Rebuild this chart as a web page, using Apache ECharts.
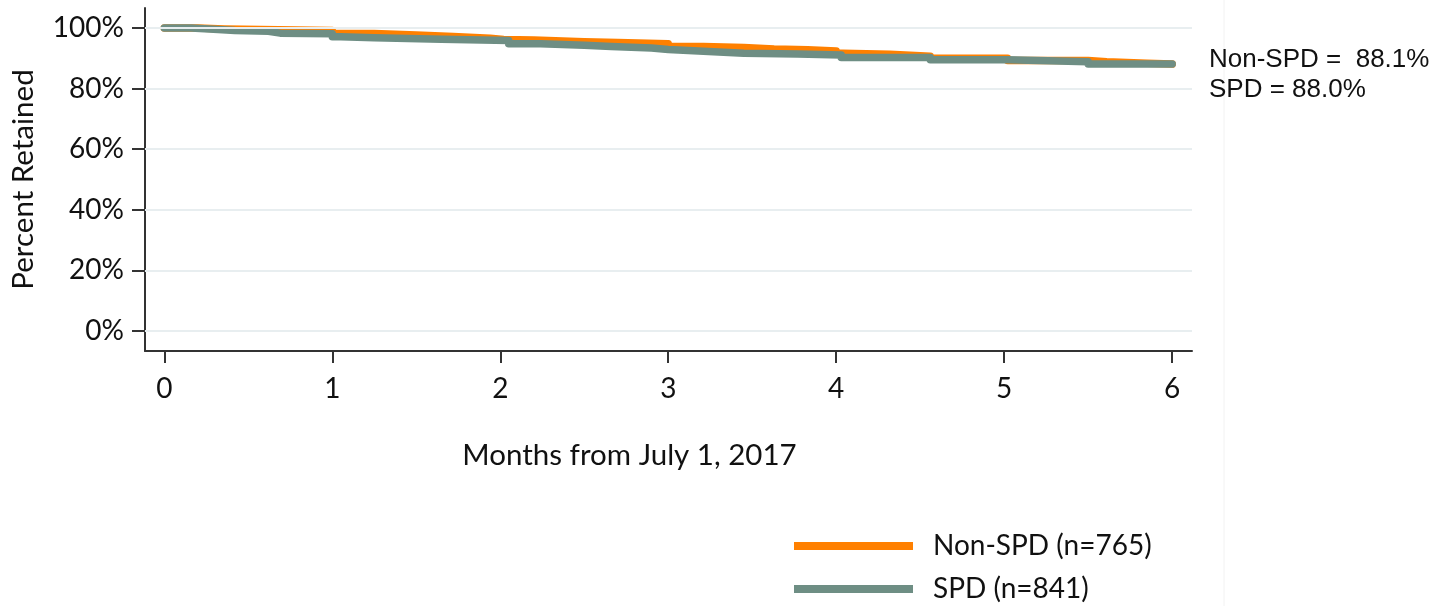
<!DOCTYPE html>
<html>
<head>
<meta charset="utf-8">
<script src="https://cdn.jsdelivr.net/npm/echarts@6/dist/echarts.min.js"></script>
<style>
  html, body { margin: 0; padding: 0; background: #fff; }
  #chart { width: 1449px; height: 606px; }
</style>
</head>
<body>
<div id="chart"></div>
<script>
// retention curves (months, percent retained)
var nonSpdMonths = [0, 0.2, 0.36, 1.0, 1.25, 1.5, 1.72, 1.94, 2.02, 2.2, 2.5, 2.7, 3.0, 3.21, 3.45, 3.63, 3.83, 4.0, 4.04, 4.32, 4.56, 5.02, 5.5, 5.61, 5.85, 6.0];
var nonSpdPct = [100, 99.7, 99.2, 98.2, 97.7, 97.2, 96.6, 96.2, 96.0, 95.5, 95.2, 94.8, 93.9, 93.6, 93.1, 92.8, 92.4, 91.7, 91.3, 90.7, 90.0, 89.3, 88.9, 88.4, 88.1, 88.1];
var spdMonths = [0, 0.16, 0.32, 0.42, 0.62, 0.69, 1.0, 1.05, 1.25, 1.65, 2.05, 2.24, 2.5, 2.66, 2.9, 3.0, 3.21, 3.45, 3.77, 4.03, 4.56, 5.02, 5.5, 6.0];
var spdPct = [100, 99.5, 99.2, 98.9, 98.3, 98.1, 97.1, 96.8, 96.3, 95.9, 94.8, 94.3, 93.9, 93.4, 92.9, 92.3, 91.7, 91.4, 91.1, 90.3, 89.5, 88.9, 88.1, 88.0];

var seriesNames = ['Non-SPD (n=765)', 'SPD (n=841)'];
var finalLabels = ['Non-SPD =  88.1%', 'SPD = 88.0%'];
var xTicks = [0, 1, 2, 3, 4, 5, 6];
var yTicks = [0, 20, 40, 60, 80, 100];

var font = 'Lato';
var axisColor = '#333';

function pairs(xs, ys) {
    var out = [];
    xs.forEach(function (x, i) { out.push([x, ys[i]]); });
    return out;
}

var chart = echarts.init(document.getElementById('chart'));
chart.setOption({
    animation: false,
    backgroundColor: '#fff',
    grid: { left: 144, right: 257, top: 8, bottom: 255, containLabel: false },
    xAxis: {
        type: 'value',
        min: -0.115,
        max: 6.118,
        name: 'Months from July 1, 2017',
        nameLocation: 'middle',
        nameGap: 89,
        nameTextStyle: { fontFamily: font, fontSize: 29.5, color: '#111', padding: [0, 78, 0, 0] },
        axisLine: { show: true, onZero: false, lineStyle: { color: axisColor, width: 2 } },
        axisTick: { show: true, length: 12, customValues: xTicks, lineStyle: { color: axisColor, width: 2 } },
        axisLabel: { customValues: xTicks, margin: 24, fontFamily: font, fontSize: 28, color: '#111' },
        splitLine: { show: false }
    },
    yAxis: {
        type: 'value',
        min: -6.6,
        max: 106.6,
        name: 'Percent Retained',
        nameLocation: 'middle',
        nameRotate: 90,
        nameGap: 107,
        nameTextStyle: { fontFamily: font, fontSize: 29.5, color: '#111' },
        axisLine: { show: true, onZero: false, lineStyle: { color: axisColor, width: 2 } },
        axisTick: { show: true, length: 13, customValues: yTicks, lineStyle: { color: axisColor, width: 2 } },
        axisLabel: {
            customValues: yTicks, margin: 21, fontFamily: font, fontSize: 28, color: '#111',
            formatter: function (v) { return v + '%'; }
        },
        splitLine: { show: false }
    },
    legend: {
        orient: 'vertical',
        left: 789,
        top: 527,
        height: 120,
        icon: 'rect',
        itemWidth: 119,
        itemHeight: 8,
        itemGap: 15,
        data: seriesNames,
        textStyle: { fontFamily: font, fontSize: 28, color: '#111', lineHeight: 28, padding: [0, 0, 0, 15] }
    },
    graphic: [
        {
            type: 'line', silent: true, z: 0,
            shape: { x1: 1224, y1: 0, x2: 1224, y2: 606 },
            style: { stroke: '#f2f2f2', lineWidth: 1 }
        },
        {
            type: 'text', left: 1209, top: 47,
            style: { text: finalLabels[0], font: '26px "Liberation Sans"', fill: '#111' }
        },
        {
            type: 'text', left: 1209, top: 77,
            style: { text: finalLabels[1], font: '26px "Liberation Sans"', fill: '#111' }
        }
    ],
    series: [
        {
            // grid lines under the curves
            type: 'line',
            data: [],
            z: 1,
            silent: true,
            markLine: {
                silent: true,
                symbol: 'none',
                label: { show: false },
                lineStyle: { color: '#e8eef0', width: 2, type: 'solid' },
                data: yTicks.map(function (v) { return { yAxis: v }; })
            }
        },
        {
            name: seriesNames[0],
            type: 'line',
            step: 'end',
            showSymbol: false,
            z: 3,
            color: '#ff8000',
            lineStyle: { color: '#ff8000', width: 7.5, cap: 'round', join: 'round' },
            data: pairs(nonSpdMonths, nonSpdPct)
        },
        {
            name: seriesNames[1],
            type: 'line',
            step: 'end',
            showSymbol: false,
            z: 4,
            color: '#6e8e84',
            lineStyle: { color: '#6e8e84', width: 7.5, cap: 'round', join: 'round' },
            data: pairs(spdMonths, spdPct)
        }
    ]
});
</script>
</body>
</html>
